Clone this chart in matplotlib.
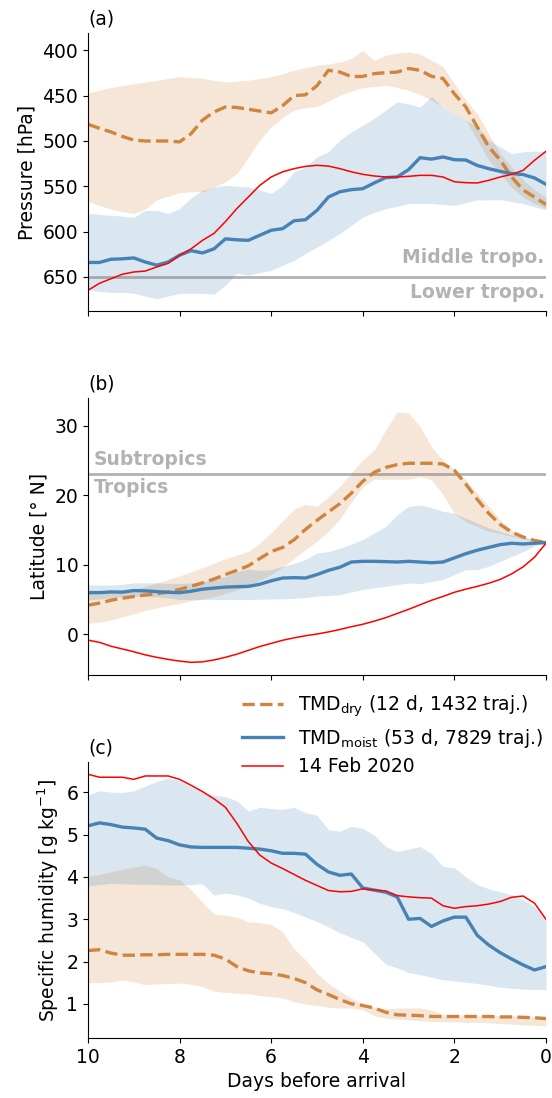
import numpy as np
import matplotlib
matplotlib.use('Agg')
import matplotlib.pyplot as plt

plt.rcParams['font.family'] = 'DejaVu Sans'
plt.rcParams['font.size'] = 13.5

# days before arrival, 3-hourly-ish grid (10 -> 0)
days = np.linspace(10, 0, 41)

# (a) pressure [hPa]
p_dry = [481.6, 486, 490, 495, 499, 500, 500, 500, 501, 492, 477, 468, 462.5, 463, 465, 467, 469, 461, 450, 449,
         439, 422, 424, 429, 428.7, 425.7, 424.6, 424, 420, 422, 428.7, 431, 448, 462.5, 484.6, 506.6, 521, 539.7,
         554, 562, 570]
p_dry_lo = [447, 444, 441, 439, 437, 435, 433, 431, 429, 430, 431, 433, 435, 434, 433, 431, 429, 426, 422, 419,
            416.5, 415, 413, 409, 400, 411, 405.5, 403, 402, 404, 411, 418, 437, 455, 470, 492, 514, 529, 543, 554, 562]
p_dry_hi = [567, 571, 575, 578, 580, 575, 565, 561, 557, 556, 556, 551, 545, 536, 518, 499, 484.5, 474, 466, 463,
            462, 456, 449.6, 445, 441, 440, 438.6, 441, 444, 449, 455, 462, 470, 477, 499, 521, 536, 551, 562, 569,
            574.6]
p_moist = [634, 634, 630.5, 630, 629, 633.5, 637, 633.5, 626, 621, 623.5, 619, 608, 609, 609.6, 604, 598.5, 596.7,
           588, 586.8, 576.5, 561.8, 556, 553.7, 552.6, 546.3, 540.4, 539.7, 531.6, 518.4, 520, 517.6, 520.6, 521,
           527, 530.5, 533.5, 536, 537, 540.8, 547.8]
p_moist_lo = [580, 581, 582, 583, 584, 576.5, 576.5, 580, 574.6, 563, 554.4, 551, 549, 550, 550.7, 554, 558, 549,
              534, 528.7, 517.6, 512, 499, 490, 482.7, 475, 466, 457, 459, 462.5, 451, 462.5, 470, 477, 484.6, 499,
              506.6, 514, 512, 511, 512]
p_moist_hi = [664, 666, 667, 667, 668, 671, 674, 671, 668, 668, 668, 669, 659, 646, 648, 645, 642.6, 637, 631.6,
              624, 617, 609.6, 602, 593, 584, 579, 574.6, 572, 569, 569, 569, 570, 571, 568, 565, 565, 564.7, 567,
              569, 572.8, 575.7]
p_case = [664.7, 657, 652, 647, 644.5, 643.5, 639, 635, 626, 619, 609.6, 602, 589, 574.6, 561.8, 549, 539.7, 534,
          530.5, 528, 526.8, 527.7, 530.5, 534, 536.8, 538.6, 539.7, 539.7, 539, 537.9, 537.9, 539.7, 545, 546,
          546.3, 543.4, 539.7, 536.8, 532.4, 521.3, 511.4]

# (b) latitude [deg N]
lat_dry = [4.2, 4.5, 4.9, 5.2, 5.45, 5.65, 5.85, 6.1, 6.47, 6.9, 7.4, 7.95, 8.6, 9.2, 9.85, 10.9, 11.9, 12.5, 13.6,
           15.1, 16.4, 17.6, 18.8, 20.3, 22.0, 23.3, 24.0, 24.4, 24.6, 24.6, 24.6, 24.5, 23.6, 21.6, 19.4, 17.4,
           15.8, 14.7, 14.0, 13.5, 13.2]
lat_dry_hi = [6.0, 6.0, 6.0, 6.2, 6.45, 6.9, 7.4, 7.9, 8.4, 9.0, 9.6, 10.2, 10.9, 11.4, 11.9, 13.1, 14.6, 16.3,
              18.0, 18.7, 18.4, 19.8, 21.3, 23.2, 25.1, 26.5, 29.4, 32.0, 31.8, 29.9, 27.0, 25.1, 23.65, 22.2,
              20.3, 18.4, 16.5, 15.0, 14.1, 13.6, 13.2]
lat_dry_lo = [1.6, 1.75, 2.05, 2.5, 2.95, 3.45, 3.8, 4.15, 4.46, 4.8, 5.1, 5.4, 5.9, 6.4, 7.0, 7.8, 8.6, 9.7, 10.9,
              12.2, 13.4, 14.8, 16.6, 19.0, 21.2, 22.3, 22.3, 22.3, 22.3, 22.7, 22.2, 20.1, 17.4, 16.2, 15.5,
              14.8, 14.5, 14.1, 13.7, 13.4, 13.2]
lat_moist = [6.0, 6.0, 6.1, 6.07, 6.3, 6.25, 6.15, 6.05, 6.0, 6.2, 6.5, 6.65, 6.8, 6.85, 6.9, 7.2, 7.7, 8.1, 8.15,
             8.1, 8.6, 9.2, 9.65, 10.4, 10.5, 10.5, 10.46, 10.4, 10.5, 10.4, 10.3, 10.4, 11.0, 11.6, 12.1, 12.5,
             12.9, 13.1, 13.0, 13.1, 13.2]
lat_moist_hi = [7.1, 7.1, 7.07, 7.2, 7.4, 7.4, 7.4, 7.3, 7.3, 7.4, 7.6, 7.9, 8.3, 9.0, 9.4, 9.2, 9.3, 9.8, 10.2,
                10.75, 11.7, 11.9, 12.4, 13.0, 13.6, 14.6, 15.5, 17.2, 18.4, 18.6, 18.2, 17.7, 17.4, 16.7, 16.0,
                15.3, 14.8, 14.3, 13.9, 13.6, 13.2]
lat_moist_lo = [4.93, 5.1, 5.25, 5.4, 5.5, 5.45, 5.4, 5.25, 5.0, 5.0, 5.0, 5.0, 5.0, 5.0, 5.0, 5.05, 5.1, 5.1,
                5.2, 5.3, 5.5, 5.6, 5.7, 6.1, 6.45, 6.7, 6.9, 7.15, 7.4, 7.3, 7.6, 7.9, 8.6, 9.3, 9.3, 9.8, 10.5,
                11.2, 11.9, 12.7, 13.2]
lat_case = [-0.82, -1.15, -1.7, -2.1, -2.5, -2.95, -3.3, -3.6, -3.84, -4.02, -3.95, -3.68, -3.3, -2.85, -2.3, -1.75,
            -1.3, -0.85, -0.5, -0.2, 0.05, 0.35, 0.7, 1.1, 1.45, 1.9, 2.4, 3.0, 3.6, 4.25, 4.9, 5.45, 6.05, 6.5,
            6.9, 7.35, 7.9, 8.7, 9.7, 11.1, 13.1]

# (c) specific humidity [g/kg]
q_dry = [2.26, 2.28, 2.2, 2.15, 2.15, 2.16, 2.16, 2.17, 2.17, 2.17, 2.17, 2.15, 2.06, 1.88, 1.78, 1.73, 1.71, 1.67,
         1.6, 1.5, 1.33, 1.22, 1.1, 1.0, 0.96, 0.9, 0.8, 0.74, 0.73, 0.72, 0.7, 0.7, 0.7, 0.7, 0.7, 0.7, 0.69,
         0.69, 0.68, 0.67, 0.65]
q_dry_hi = [4.01, 4.06, 4.12, 4.18, 4.24, 4.28, 4.2, 4.0, 3.93, 3.7, 3.4, 3.13, 3.1, 3.05, 2.94, 2.92, 2.88, 2.7,
            2.3, 2.04, 1.72, 1.48, 1.3, 1.13, 1.0, 0.92, 0.88, 0.9, 0.9, 0.9, 0.85, 0.75, 0.74, 0.74, 0.73, 0.73,
            0.72, 0.72, 0.71, 0.7, 0.68]
q_dry_lo = [1.5, 1.5, 1.52, 1.56, 1.52, 1.45, 1.47, 1.48, 1.49, 1.46, 1.41, 1.3, 1.27, 1.25, 1.24, 1.2, 1.17, 1.14,
            1.05, 0.99, 0.96, 0.92, 0.9, 0.9, 0.86, 0.72, 0.66, 0.64, 0.62, 0.6, 0.58, 0.58, 0.57, 0.56, 0.56, 0.55,
            0.53, 0.52, 0.5, 0.49, 0.48]
q_moist = [5.21, 5.28, 5.24, 5.18, 5.16, 5.13, 4.92, 4.86, 4.76, 4.71, 4.7, 4.7, 4.7, 4.7, 4.68, 4.66, 4.62, 4.56,
           4.56, 4.54, 4.3, 4.12, 4.04, 4.07, 3.74, 3.69, 3.64, 3.53, 3.0, 3.02, 2.83, 2.96, 3.05, 3.05, 2.62, 2.39,
           2.21, 2.06, 1.92, 1.8, 1.88]
q_moist_hi = [5.94, 6.04, 6.01, 6.0, 6.04, 6.15, 6.26, 6.34, 6.28, 6.14, 6.0, 5.93, 5.9, 5.8, 5.56, 5.65, 5.62,
              5.6, 5.65, 5.52, 5.46, 5.12, 5.08, 5.2, 5.15, 4.99, 4.72, 4.6, 4.66, 4.72, 4.55, 4.25, 4.22, 4.0,
              3.82, 3.72, 3.65, 3.58, 3.46, 3.3, 2.99]
q_moist_lo = [3.79, 3.82, 3.85, 3.84, 3.83, 3.83, 3.82, 3.81, 3.81, 3.82, 3.84, 3.57, 3.62, 3.58, 3.5, 3.38, 3.3,
              3.25, 3.16, 3.05, 2.95, 2.82, 2.68, 2.57, 2.47, 2.2, 1.94, 1.85, 1.74, 1.69, 1.63, 1.57, 1.54, 1.51,
              1.48, 1.44, 1.39, 1.37, 1.35, 1.34, 1.33]
q_case = [6.43, 6.36, 6.36, 6.36, 6.31, 6.39, 6.39, 6.39, 6.31, 6.17, 6.02, 5.85, 5.65, 5.27, 4.84, 4.52, 4.33,
          4.2, 4.06, 3.92, 3.8, 3.68, 3.65, 3.66, 3.72, 3.69, 3.67, 3.56, 3.53, 3.51, 3.5, 3.32, 3.26, 3.3, 3.32,
          3.36, 3.42, 3.52, 3.55, 3.38, 3.0]

c_dry = 'peru'
c_moist = 'steelblue'
c_case = 'red'
c_ref = 'gray'

fig = plt.figure(figsize=(5.52, 10.98), dpi=100)
ax1 = fig.add_axes([0.1594, 0.7168, 0.8297, 0.2532])
ax2 = fig.add_axes([0.1594, 0.3852, 0.8297, 0.2523])
ax3 = fig.add_axes([0.1594, 0.0546, 0.8297, 0.2514])


def draw(ax, dry, dry_lo, dry_hi, moist, moist_lo, moist_hi, case):
    ax.fill_between(days, dry_lo, dry_hi, color=c_dry, alpha=0.2, lw=0)
    ax.fill_between(days, moist_lo, moist_hi, color=c_moist, alpha=0.2, lw=0)
    ax.plot(days, dry, '--', color=c_dry, lw=2.4, label=r'TMD$_{\rm dry}$ (12 d, 1432 traj.)')
    ax.plot(days, moist, '-', color=c_moist, lw=2.4, label=r'TMD$_{\rm moist}$ (53 d, 7829 traj.)')
    ax.plot(days, case, '-', color=c_case, lw=1.1, label='14 Feb 2020')
    ax.set_xlim(10, 0)
    ax.set_xticks([10, 8, 6, 4, 2, 0])
    ax.spines['top'].set_visible(False)
    ax.spines['right'].set_visible(False)


draw(ax1, p_dry, p_dry_lo, p_dry_hi, p_moist, p_moist_lo, p_moist_hi, p_case)
ax1.axhline(650, color=c_ref, alpha=0.6, lw=2, zorder=1.5)
ax1.set_ylim(687.5, 380.8)
ax1.set_yticks([400, 450, 500, 550, 600, 650])
ax1.set_ylabel('Pressure [hPa]')
ax1.set_title('(a)', loc='left', fontsize=13.5)
ax1.tick_params(labelbottom=False)
ax1.text(0.03, 629, 'Middle tropo.', ha='right', va='center', color=c_ref, alpha=0.6, fontweight='bold')
ax1.text(0.03, 667, 'Lower tropo.', ha='right', va='center', color=c_ref, alpha=0.6, fontweight='bold')

draw(ax2, lat_dry, lat_dry_lo, lat_dry_hi, lat_moist, lat_moist_lo, lat_moist_hi, lat_case)
ax2.axhline(23, color=c_ref, alpha=0.6, lw=2, zorder=1.5)
ax2.set_ylim(-5.85, 33.98)
ax2.set_yticks([0, 10, 20, 30])
ax2.set_ylabel('Latitude [° N]')
ax2.set_title('(b)', loc='left', fontsize=13.5)
ax2.tick_params(labelbottom=False)
ax2.text(9.88, 25.1, 'Subtropics', ha='left', va='center', color=c_ref, alpha=0.6, fontweight='bold')
ax2.text(9.88, 21.1, 'Tropics', ha='left', va='center', color=c_ref, alpha=0.6, fontweight='bold')

draw(ax3, q_dry, q_dry_lo, q_dry_hi, q_moist, q_moist_lo, q_moist_hi, q_case)
ax3.set_ylim(0.19, 6.72)
ax3.set_yticks([1, 2, 3, 4, 5, 6])
ax3.set_ylabel('Specific humidity [g kg$^{-1}$]')
ax3.set_xlabel('Days before arrival')
ax3.set_title('(c)', loc='left', fontsize=13.5)

handles, labels = ax3.get_legend_handles_labels()
fig.legend(handles, labels, loc='upper left', bbox_to_anchor=(0.408, 0.384), frameon=False,
           handlelength=2.2, labelspacing=0.42, fontsize=13.5)

fig.savefig('out.png', dpi=100)
